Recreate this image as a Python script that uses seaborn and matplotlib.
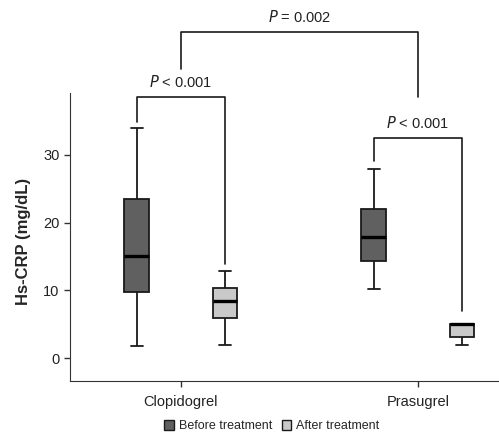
import numpy as np
import pandas as pd
import matplotlib.pyplot as plt
import seaborn as sns
from matplotlib.patches import Patch

# five-number summaries: min, q1, median, q3, max
drugs = ['Clopidogrel', 'Prasugrel']
phases = ['Before treatment', 'After treatment']
clop_before = [1.8, 9.7, 15.1, 23.5, 33.9]
clop_after = [1.9, 5.9, 8.4, 10.4, 12.9]
pras_before = [10.2, 14.4, 17.9, 22.0, 27.9]
pras_after = [2.0, 3.2, 5.1, 5.1, 5.1]

rows = []
for drug, phase, vals in [('Clopidogrel', 'Before treatment', clop_before),
                          ('Clopidogrel', 'After treatment', clop_after),
                          ('Prasugrel', 'Before treatment', pras_before),
                          ('Prasugrel', 'After treatment', pras_after)]:
    for v in vals:
        rows.append({'drug': drug, 'phase': phase, 'crp': v})
df = pd.DataFrame(rows)

sns.set_style('white')
plt.rcParams['font.family'] = ['Liberation Sans', 'DejaVu Sans']

fig = plt.figure(figsize=(4.99, 4.32), dpi=100)
ax = fig.add_axes([70 / 499, (432 - 380.7) / 432, 429 / 499, 380.7 / 432])

line_kw = dict(color='#1a1a1a', linewidth=1.3)
sns.boxplot(data=df, x='drug', y='crp', hue='phase', order=drugs, hue_order=phases,
            palette=['#606060', '#c9c9c9'], whis=(0, 100), width=0.745, gap=0.72,
            linewidth=1.3, linecolor='#1a1a1a',
            medianprops=dict(color='black', linewidth=2.4),
            capprops=line_kw, whiskerprops=line_kw, boxprops=dict(edgecolor='#1a1a1a'),
            legend=False, ax=ax)

ax.set_xlim(-0.468, 1.342)
ax.set_ylim(-3.3, 52.8)
ax.set_yticks([0, 10, 20, 30])
ax.tick_params(axis='both', labelsize=10.5, length=4, width=1, color='#333333',
               labelcolor='#222222', bottom=True, left=True)
ax.tick_params(axis='x', pad=6)
ax.set_xlabel('')
ax.set_ylabel('Hs-CRP (mg/dL)', fontsize=12, fontweight='bold')
ax.yaxis.set_label_coords(-0.092, 0.367)
for s in ['top', 'right']:
    ax.spines[s].set_visible(False)
ax.spines['left'].set_bounds(-3.3, 39.1)
ax.spines['left'].set_color('#333333')
ax.spines['bottom'].set_color('#333333')

# significance brackets
off = 0.186
def bracket(x1, x2, y1, y2, top, label):
    ax.plot([x1, x1, x2, x2], [y1, top, top, y2], color='#1a1a1a', lw=1.2, clip_on=False)
    ax.text((x1 + x2) / 2, top + 1.0, label, ha='center', va='bottom', fontsize=10.5, color='#222222')

bracket(0 - off, 0 + off, 34.8, 13.9, 38.5, r'$\it{P}$ < 0.001')
bracket(1 - off, 1 + off, 29.1, 7.0, 32.5, r'$\it{P}$ < 0.001')
bracket(0, 1, 42.6, 38.5, 48.1, r'$\it{P}$ = 0.002')

handles = [Patch(facecolor='#606060', edgecolor='#1a1a1a', label='Before treatment'),
           Patch(facecolor='#c9c9c9', edgecolor='#1a1a1a', label='After treatment')]
fig.legend(handles=handles, loc='lower center', bbox_to_anchor=(0.545, -0.027), ncol=2,
           frameon=False, fontsize=9, handlelength=0.75, handleheight=0.75,
           handletextpad=0.4, columnspacing=0.8)

fig.savefig('out.png', dpi=100)
